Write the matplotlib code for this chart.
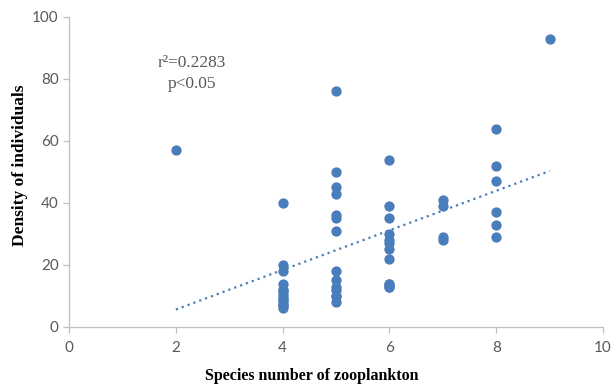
import numpy as np
import matplotlib.pyplot as plt

species = [2,
           4, 4, 4, 4, 4, 4, 4, 4, 4, 4, 4, 4, 4, 4,
           5, 5, 5, 5, 5, 5, 5, 5, 5, 5, 5, 5, 5, 5,
           6, 6, 6, 6, 6, 6, 6, 6, 6, 6, 6, 6,
           7, 7, 7, 7,
           8, 8, 8, 8, 8, 8,
           9]
density = [57,
           40, 20, 18, 14, 12, 12, 11, 10, 9, 9, 8, 7, 7, 6,
           76, 50, 45, 43, 36, 35, 31, 18, 15, 13, 12, 10, 10, 8,
           54, 39, 35, 30, 28, 27, 25, 22, 14, 14, 13, 13,
           41, 39, 29, 28,
           64, 52, 47, 37, 33, 29,
           93]

x = np.array(species, dtype=float)
y = np.array(density, dtype=float)

blue = "#4a7ebb"
grey = "#595959"
axis_grey = "#bfbfbf"

fig = plt.figure(figsize=(6.11, 3.86), dpi=100)
ax = fig.add_axes([0.113, 0.153, 0.874, 0.803])

ax.scatter(x, y, s=55, color=blue, zorder=3, linewidths=0)

# linear trend line over the observed x range
k, b = np.polyfit(x, y, 1)
xt = np.array([x.min(), x.max()])
ax.plot(xt, k * xt + b, color=blue, linestyle=(0, (1, 1.8)), linewidth=1.6, zorder=2)

ax.set_xlim(0, 10)
ax.set_ylim(0, 100)
ax.set_xticks(range(0, 11, 2))
ax.set_yticks(range(0, 101, 20))

for side in ["top", "right"]:
    ax.spines[side].set_visible(False)
for side in ["left", "bottom"]:
    ax.spines[side].set_color(axis_grey)
    ax.spines[side].set_linewidth(0.9)

ax.tick_params(colors=axis_grey, labelcolor=grey, labelsize=11, length=4, width=0.9)
ax.tick_params(axis="x", pad=6)
for lab in ax.get_xticklabels() + ax.get_yticklabels():
    lab.set_family("Lato")

ax.set_xlabel("Species number of zooplankton", family="Liberation Serif",
              fontweight="bold", fontsize=11.5)
ax.set_ylabel("Density of individuals", family="Liberation Serif",
              fontweight="bold", fontsize=12.5)
ax.xaxis.set_label_coords(0.455, -0.133)
ax.yaxis.set_label_coords(-0.076, 0.523)

ax.text(2.3, 85, "r²=0.2283", ha="center", va="center", color=grey,
        family="Liberation Serif", fontsize=12.5)
ax.text(2.3, 78.5, "p<0.05", ha="center", va="center", color=grey,
        family="Liberation Serif", fontsize=12.5)

fig.savefig("out.png", dpi=100)
